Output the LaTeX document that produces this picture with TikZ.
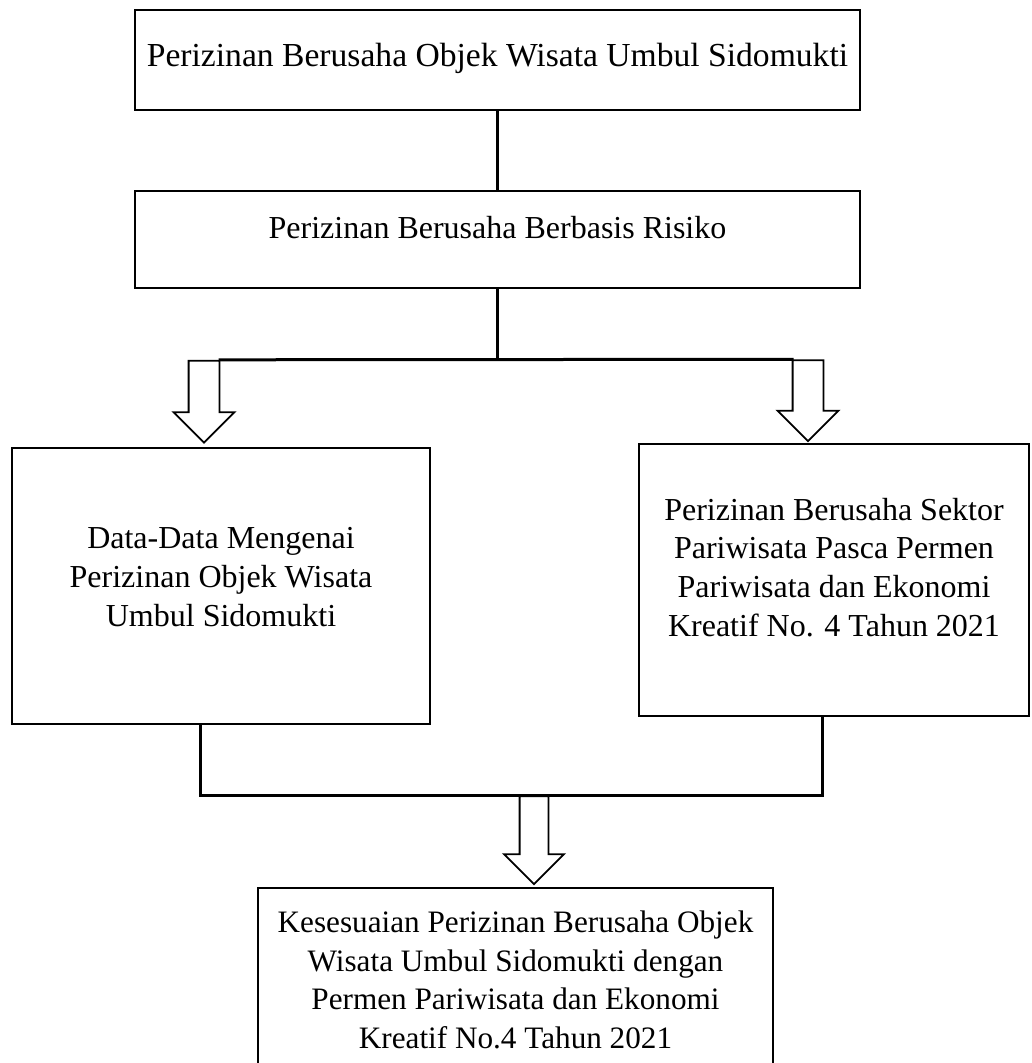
\documentclass[tikz,border=0pt]{standalone}
\usepackage{fontspec}
\setmainfont{Liberation Serif}
\usetikzlibrary{shapes.arrows}

\begin{document}
\begin{tikzpicture}[x=0.5pt, y=-0.5pt,
  box/.style={rectangle, draw=black, line width=1pt, fill=white, align=center, font=\fontsize{16}{19.3}\selectfont, inner sep=0pt},
  hollow/.style={single arrow, draw=black, line width=0.9pt, fill=white, shape border rotate=270, minimum width=29.5pt, minimum height=41pt, single arrow head extend=7.5pt, inner sep=7.25pt},
  link/.style={line width=1.5pt, black}
]
  \useasboundingbox (0,0) rectangle (1031,1063);

  %% ── Boxes ─────────────────────────────────────────────────────────────────
  \node[box, font=\fontsize{16.8}{19.3}\selectfont, text depth=5pt, minimum width=362.5pt, minimum height=50pt] (objek) at (497.5,60)
    {Perizinan Berusaha Objek Wisata Umbul Sidomukti};
  \node[box, text depth=12pt, minimum width=362.5pt, minimum height=48.5pt] (risiko) at (497.5,239.5)
    {Perizinan Berusaha Berbasis Risiko};
  \node[box, text depth=9pt, minimum width=209pt, minimum height=138pt] (data) at (221,586)
    {Data-Data Mengenai\\Perizinan Objek Wisata\\Umbul Sidomukti};
  \node[box, text depth=13pt, minimum width=195pt, minimum height=136pt] (sektor) at (834,580)
    {Perizinan Berusaha Sektor\\Pariwisata Pasca Permen\\Pariwisata dan Ekonomi\\Kreatif No. 4 Tahun 2021};
  \node[box, font=\fontsize{15.6}{19.3}\selectfont, minimum width=257.5pt, minimum height=92pt] (sesuai) at (515.5,980)
    {Kesesuaian Perizinan Berusaha Objek\\Wisata Umbul Sidomukti dengan\\Permen Pariwisata dan Ekonomi\\Kreatif No.4 Tahun 2021};

  %% ── Hollow arrows ─────────────────────────────────────────────────────────
  \node[hollow] (larr) at (204,394) {};
  \node[hollow, minimum height=40.5pt] (rarr) at (808,393) {};
  \node[hollow, minimum height=44pt, minimum width=29pt, inner sep=6.75pt, single arrow head extend=7.75pt] (barr) at (534,833) {};

  %% ── Connectors ────────────────────────────────────────────────────────────
  % Objek -> Risiko
  \draw[link] (objek) -- (risiko);
  % Risiko -> both branches
  \draw[link] (risiko.south) -- (risiko.south |- larr.tail);
  \draw[link] ([xshift=7.25pt]larr.tail) -- ([xshift=-7.25pt]rarr.tail);
  % both branches -> Kesesuaian
  \draw[link] ([xshift=-10.5pt]data.south) |- (barr.tail) -| ([xshift=-6pt]sektor.south);
\end{tikzpicture}
\end{document}
